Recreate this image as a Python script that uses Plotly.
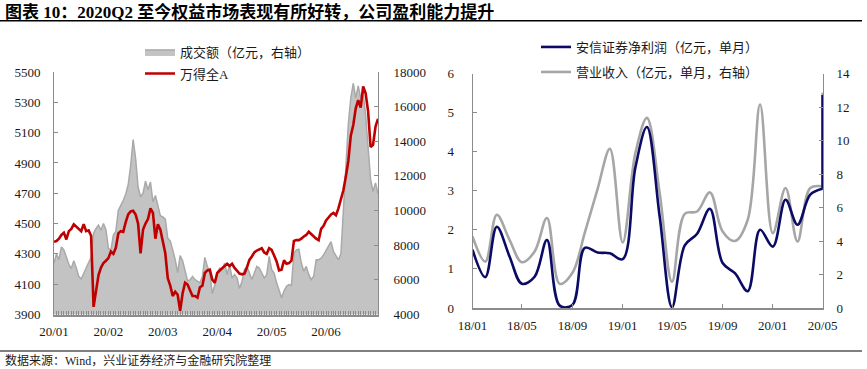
import plotly.graph_objects as go

# ---------------- Left chart data (daily trading days, 2020-01-02 .. 2020-07) ----------------
wind_all_a = [
    4380, 4385, 4400, 4425, 4440, 4395, 4450, 4465, 4495, 4480, 4465, 4450, 4496, 4450, 4455, 4420,
    3950, 4070, 4160, 4210, 4240, 4255, 4272, 4315, 4300, 4340, 4435, 4450, 4445, 4510, 4560, 4580,
    4585, 4560, 4500, 4304, 4460, 4500, 4530, 4600, 4570, 4400, 4495, 4460, 4370, 4304, 4140, 4090,
    4022, 4050, 4030, 3925, 4040, 4110, 4098, 4065, 4022, 4022, 4011, 4080, 4090, 4174, 4191, 4196,
    4130, 4109, 4174, 4190, 4205, 4225, 4235, 4220, 4235, 4207, 4190, 4170, 4165, 4170, 4210, 4260,
    4283, 4310, 4322, 4330, 4337, 4309, 4300, 4337, 4326, 4290, 4250, 4191, 4196, 4257, 4235, 4239,
    4255, 4385, 4391, 4391, 4400, 4415, 4425, 4446, 4430, 4413, 4400, 4390, 4465, 4485, 4520, 4540,
    4560, 4570, 4555, 4600, 4665, 4720, 4810, 4913, 5080, 5150, 5260, 5315, 5265, 5405, 5359, 5240,
    5005, 5020, 5140, 5191,
]
turnover = [
    6970, 7500, 7160, 7900, 7730, 7300, 6900, 6650, 7100, 6700, 6200, 6050, 6400, 6750, 7000, 7300,
    8700, 8966, 9160, 8870, 9250, 8900, 7820, 7700, 8585, 8800, 10000, 10300, 10580, 10960, 11500, 12600,
    14100, 13000, 11343, 10800, 11000, 11700, 11200, 11650, 10500, 10870, 10300, 9700, 9630, 9500, 8400, 8250,
    7730, 7160, 6400, 7400, 7100, 6500, 5950, 6000, 6200, 6017, 5922, 5827, 6208, 7300, 6780, 6400,
    5200, 5700, 6398, 6683, 6588, 6970, 6300, 6870, 6100, 6303, 6112, 5500, 5900, 6588, 6778, 6398,
    6017, 6398, 6778, 6683, 6398, 6100, 6300, 7349, 6588, 6398, 5827, 5447, 4971, 5352, 5637, 5732,
    5675, 7539, 7729, 7767, 6968, 6500, 6778, 6303, 6017, 6208, 7159, 7159, 7254, 7444, 7729, 7919,
    8205, 7634, 7349, 7159, 7500, 10100, 12800, 15000, 16500, 17350, 16500, 17200, 16500, 16800, 15500, 13700,
    11800, 11100, 11600, 10963,
]
left_tick_labels = ["20/01", "20/02", "20/03", "20/04", "20/05", "20/06"]
left_tick_every = 22  # one label every 22 trading days
day_index = list(range(len(wind_all_a)))

# ---------------- Right chart data (monthly, 2018-01 .. 2020-05) ----------------
months = [f"{y}-{m:02d}-01" for y in (2018, 2019) for m in range(1, 13)] + \
         [f"2020-{m:02d}-01" for m in range(1, 6)]
net_profit = [1.49, 0.79, 2.08, 1.32, 0.62, 0.80, 1.74, 0.06, 0.08, 1.54, 1.42, 1.40,
              1.25, 3.60, 4.63, 2.34, 0.02, 1.60, 1.90, 2.54, 1.15, 0.89, 0.43, 2.00,
              1.57, 2.77, 2.13, 2.90, 3.05]
revenue = [4.27, 2.77, 5.57, 4.07, 2.73, 3.37, 5.37, 1.44, 2.10, 4.50, 7.10, 9.50,
           3.91, 9.26, 11.35, 6.86, 1.57, 5.62, 5.76, 6.90, 4.57, 4.00, 5.27, 12.15,
           4.47, 7.16, 3.97, 7.16, 7.26]
# final (latest) reading drawn as a jump at the last month
last_month = "2020-05-01"
net_profit_last = 5.45
revenue_last = 12.85

W, H = 867, 369
FONT = "Liberation Serif, 'Times New Roman', 'Noto Sans CJK SC', serif"
AX = "#8c8c8c"
GRAY_LINE = "#a6a6a6"
NAVY = "#0b0b66"


def px_x(p):
    return p / W


def px_y(p):
    return (H - p) / H


fig = go.Figure()

# Left chart: turnover area (base axis y, right side), Wind All A (overlay y2, left side)
fig.add_trace(go.Scatter(
    x=day_index, y=turnover, name="成交额（亿元，右轴）", mode="lines",
    line=dict(color="#a9a9a9", width=1.5), fill="tozeroy", fillcolor="#c3c3c3",
    xaxis="x", yaxis="y", legend="legend"))
fig.add_trace(go.Scatter(
    x=day_index, y=wind_all_a, name="万得全A", mode="lines",
    line=dict(color="#c00000", width=2.6),
    xaxis="x", yaxis="y2", legend="legend2"))

# Right chart: revenue (base y3, right side), net profit (overlay y4, left side)
fig.add_trace(go.Scatter(
    x=months, y=revenue, name="营业收入（亿元，单月，右轴）", mode="lines",
    line=dict(color=GRAY_LINE, width=2.6, shape="spline", smoothing=1.0),
    xaxis="x2", yaxis="y3", legend="legend4"))
fig.add_trace(go.Scatter(
    x=[months[-1], last_month], y=[revenue[-1], revenue_last], mode="lines",
    line=dict(color=GRAY_LINE, width=2.6), showlegend=False,
    xaxis="x2", yaxis="y3"))
fig.add_trace(go.Scatter(
    x=months, y=net_profit, name="安信证券净利润（亿元，单月）", mode="lines",
    line=dict(color=NAVY, width=2.6, shape="spline", smoothing=1.0),
    xaxis="x2", yaxis="y4", legend="legend3"))
fig.add_trace(go.Scatter(
    x=[months[-1], last_month], y=[net_profit[-1], net_profit_last], mode="lines",
    line=dict(color=NAVY, width=2.6), showlegend=False,
    xaxis="x2", yaxis="y4"))

tick_font = dict(family=FONT, size=13, color="#1a1a1a")
leg_font = dict(family=FONT, size=13, color="#1a1a1a")

left_dom_x = [px_x(54), px_x(378)]
left_dom_y = [px_y(314.5), px_y(72)]
right_dom_x = [px_x(472.5), px_x(823)]
right_dom_y = [px_y(308), px_y(73.5)]

common_y = dict(showline=True, linecolor=AX, linewidth=1, ticks="inside", ticklen=4,
                tickcolor=AX, showgrid=False, zeroline=False, tickfont=tick_font,
                automargin=False, tickformat="d")

fig.update_layout(
    template="none",
    width=W, height=H,
    margin=dict(l=0, r=0, t=0, b=0, autoexpand=False),
    paper_bgcolor="white", plot_bgcolor="white",
    font=dict(family=FONT, size=13, color="#1a1a1a"),
    xaxis=dict(domain=left_dom_x, anchor="y", range=[0, len(day_index) - 1],
               tickmode="array",
               tickvals=day_index[::left_tick_every][:len(left_tick_labels)],
               ticktext=left_tick_labels,
               showline=True, linecolor=AX, linewidth=1.5,
               ticks="inside", ticklen=4, tickcolor=AX,
               minor=dict(dtick=1, tick0=0, ticks="inside", ticklen=4, tickcolor=AX),
               showgrid=False, zeroline=False, tickfont=tick_font, automargin=False,
               ticklabelstandoff=4),
    yaxis=dict(domain=left_dom_y, anchor="x", side="right", range=[4000, 18000],
               tick0=4000, dtick=2000, ticklabelstandoff=12, **common_y),
    yaxis2=dict(overlaying="y", anchor="x", side="left", range=[3900, 5500],
                tick0=3900, dtick=200, ticklabelstandoff=10, **common_y),
    xaxis2=dict(domain=right_dom_x, anchor="y3", type="date",
                range=["2018-01-01", "2020-05-02"], dtick="M4", tick0="2018-01-01",
                tickformat="%y/%m", showline=True, linecolor=AX, linewidth=1.5,
                ticks="inside", ticklen=4, tickcolor=AX, showgrid=False, zeroline=False,
                tickfont=tick_font, automargin=False, ticklabelstandoff=5),
    yaxis3=dict(domain=right_dom_y, anchor="x2", side="right", range=[0, 14], tick0=0,
                dtick=2, ticklabelstandoff=10, **common_y),
    yaxis4=dict(overlaying="y3", anchor="x2", side="left", range=[0, 6], tick0=0,
                dtick=1, ticklabelstandoff=15, **common_y),
    legend=dict(x=px_x(140), y=px_y(52), xanchor="left", yanchor="middle",
                bgcolor="rgba(0,0,0,0)", font=leg_font),
    legend2=dict(x=px_x(140), y=px_y(73.5), xanchor="left", yanchor="middle",
                 bgcolor="rgba(0,0,0,0)", font=leg_font),
    legend3=dict(x=px_x(536), y=px_y(47), xanchor="left", yanchor="middle",
                 bgcolor="rgba(0,0,0,0)", font=leg_font),
    legend4=dict(x=px_x(536), y=px_y(72), xanchor="left", yanchor="middle",
                 bgcolor="rgba(0,0,0,0)", font=leg_font),
    shapes=[
        dict(type="line", xref="paper", yref="paper", x0=0, x1=px_x(862),
             y0=px_y(20.7), y1=px_y(20.7), line=dict(color="black", width=1.5)),
        dict(type="line", xref="paper", yref="paper", x0=0, x1=px_x(862),
             y0=px_y(351), y1=px_y(351), line=dict(color="black", width=1.2)),
    ],
    annotations=[
        dict(text="<b>图表 10：2020Q2 至今权益市场表现有所好转，公司盈利能力提升</b>",
             xref="paper", yref="paper", x=px_x(3), y=px_y(11.5), xanchor="left",
             yanchor="middle", showarrow=False,
             font=dict(family=FONT, size=17, color="black")),
        dict(text="数据来源：Wind，兴业证券经济与金融研究院整理",
             xref="paper", yref="paper", x=px_x(3), y=px_y(360), xanchor="left",
             yanchor="middle", showarrow=False,
             font=dict(family=FONT, size=12, color="#1a1a1a")),
    ],
    showlegend=True,
)

# remove the default 8px page margin so the figure sits at the window's top-left corner
fig.write_html("out.html",
               config={"displayModeBar": False},
               post_script="document.body.style.margin='0px';document.body.style.overflow='hidden';")
